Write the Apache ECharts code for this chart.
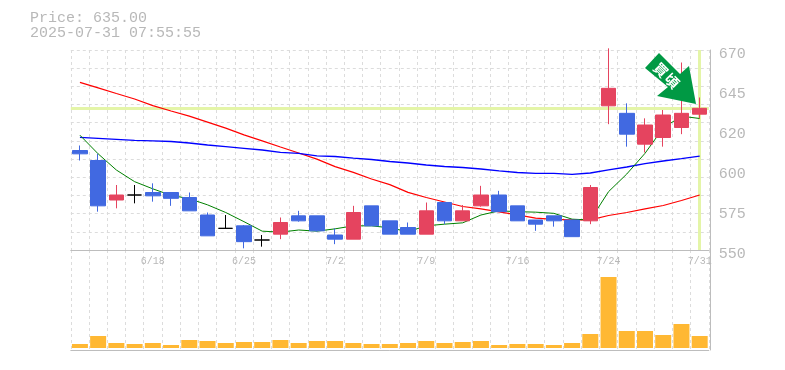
<!DOCTYPE html>
<html><head><meta charset="utf-8">
<style>html,body{margin:0;padding:0;background:#fff}#c{width:785px;height:370px}</style>
<script src="https://cdn.jsdelivr.net/npm/echarts@6/dist/echarts.min.js"></script>
</head><body><div id="c"></div>
<script>
const dates=['6/12','6/13','6/16','6/17','6/18','6/19','6/20','6/23','6/24','6/25','6/26','6/27','6/30','7/1','7/2','7/3','7/4','7/7','7/8','7/9','7/10','7/11','7/14','7/15','7/16','7/17','7/18','7/22','7/23','7/24','7/25','7/28','7/29','7/30','7/31'];
const opens=[609.7,603.7,580,583,584.5,584.5,581.5,571,563,564.5,556,559.5,570.5,570.5,559,556.5,576.5,567.5,563.5,559.5,578.5,567.5,576.5,583,576.5,568,570.5,568,567.5,636.5,632,613.5,617.5,623.5,631.5];
const closes=[607.7,576.5,583,583,582.5,581,573.5,558.5,563,555,556,566.5,567.5,561.5,556.5,572.5,564.5,559.5,559.5,573.5,567.5,573.5,583,573,567.5,565.5,567.5,558,587.5,647,619.5,625,631,632,635];
const lows=[603.7,573,575,578,579,576.5,573.5,558.5,563,551,552,556.5,567,561,553.5,556.5,564.5,559.5,559.5,559.5,565.5,567.5,576,573,567.5,561.5,564,558,565.5,625.5,612,608.5,612,619.5,629];
const highs=[612.7,607.7,589,589,590,584.5,584.5,572.5,571,565,559,569.5,573.5,570.5,563,576.5,576.5,567.5,566.5,578.5,578.5,577,588.5,585.5,576.5,568,570.5,568,589,671,638,629,634,662.5,641.5];
const maShort=[618.9,607.7,598,591,586.7,582.8,580.8,577.1,572.5,567,561.3,560.7,562,561.3,562.7,564.5,564.5,563.3,561,564.5,565.5,566.3,571,573.5,573,572.7,572,568.5,568,585,595.6,608,623.2,630.3,628.9];
const maMid=[650.6,647.3,643.9,640.6,636.6,633.4,630.3,626.7,623.1,619.1,615.5,611.8,608.2,604.5,600,596.6,592.6,589.2,584.6,581.5,578.8,576.1,574.7,572.9,571.1,569.1,568.4,568.1,568.1,570.7,572.5,574.7,576.7,579.7,583];
const maLong=[617.6,617,616.4,615.8,615.5,615.1,614.2,613,612,611,610,608.6,608,606.5,606.1,605.1,604.3,603.1,602.2,601,600.1,599.5,598.6,597.5,596.5,596,596,595.4,596.2,598.1,599.8,601.8,603.4,604.8,606.3];
const volumes=[4,12,5,4,5,3,8,7,5,6,6,8,5,7,7,5,4,4,5,7,5,6,7,3,4,4,3,5,14,71,17,17,13,24,12];
const priceTicks=[550,574,598,622,646,670];
const lastPrice=635, lastDate='7/31';
const titleText='Price: 635.00\n2025-07-31 07:55:55';
const stampText=['買','頃'];

const MONO='"Liberation Mono","DejaVu Sans Mono",monospace', GREY='#b8b8b8', AXIS='#bdbdbd', GRID='#dcdcdc';
const UP='#e5445f', DOWN='#4169e1';
const candles=dates.map((d,i)=>{
  const v=[opens[i],closes[i],lows[i],highs[i]];
  return opens[i]===closes[i]?{value:v,itemStyle:{color:'#000',color0:'#000',borderColor:'#000',borderColor0:'#000',borderColorDoji:'#000'}}:{value:v};
});
const dash={type:[3,3],color:GRID,width:1};
const chart=echarts.init(document.getElementById('c'),null,{renderer:'canvas'});
const line=(d,c,w)=>({type:'line',data:d,showSymbol:false,smooth:false,z:2,silent:true,lineStyle:{color:c,width:w}});
chart.setOption({
  animation:false,backgroundColor:'#fff',
  title:{text:titleText,left:30,top:11,padding:0,textStyle:{fontFamily:MONO,fontSize:15,lineHeight:15,fontWeight:'normal',color:GREY}},
  grid:[{left:70.8,width:638,top:50,height:200},{left:70.8,width:638,top:250,height:100}],
  xAxis:[
    {type:'category',gridIndex:0,data:dates,boundaryGap:true,axisLine:{show:true,onZero:false,lineStyle:{color:AXIS}},axisTick:{show:false},
     splitLine:{show:true,interval:0,lineStyle:dash},
     axisLabel:{show:true,interval:i=>(dates.length-1-i)%5===0,margin:6,fontFamily:MONO,fontSize:10,color:GREY}},
    {type:'category',gridIndex:1,data:dates,boundaryGap:true,axisLine:{show:true,onZero:false,lineStyle:{color:AXIS}},axisTick:{show:false},
     splitLine:{show:true,interval:0,lineStyle:dash},axisLabel:{show:false}}
  ],
  yAxis:[
    {type:'value',gridIndex:0,position:'right',offset:1,min:550,max:670,
     axisLine:{show:true,lineStyle:{color:AXIS}},axisTick:{show:false},splitLine:{show:false},
     axisLabel:{show:true,customValues:priceTicks,margin:9,verticalAlign:'top',lineHeight:8,fontFamily:MONO,fontSize:15,color:GREY,
       formatter:v=>String(Math.round(v/5)*5)}},
    {type:'value',gridIndex:0,min:0,max:11,interval:1,axisLine:{show:false},axisTick:{show:false},axisLabel:{show:false},
     splitLine:{show:true,lineStyle:dash}},
    {type:'value',gridIndex:1,position:'right',offset:1,min:-2,max:98,axisLine:{show:true,lineStyle:{color:AXIS}},axisTick:{show:false},axisLabel:{show:false},splitLine:{show:false}}
  ],
  series:[
    {type:'line',xAxisIndex:0,yAxisIndex:0,data:[],z:1,silent:true,
     markLine:{silent:true,z:1,symbol:'none',animation:false,label:{show:false},lineStyle:{color:'#e4f5a8',width:3,type:'solid'},
       data:[{yAxis:lastPrice},{xAxis:lastDate}]}},
    line(maMid,'#ff0000',1.2),line(maLong,'#0000ff',1.4),line(maShort,'#008000',1),
    {type:'candlestick',xAxisIndex:0,yAxisIndex:0,z:3,silent:true,barWidth:15,data:candles,clip:true,
     itemStyle:{color:UP,color0:DOWN,borderColor:UP,borderColor0:DOWN,borderWidth:1}},
    {type:'bar',xAxisIndex:1,yAxisIndex:2,barWidth:16,data:volumes,silent:true,itemStyle:{color:'#ffb833'}}
  ],
  graphic:[
    {type:'polygon',z:10,silent:true,shape:{points:[[659,53],[645,68],[668,87],[657,96],[696,104],[689,66],[680,74]]},style:{fill:'#009944'}},
    {type:'text',z:11,silent:true,x:661,y:70,rotation:-Math.PI/4,style:{text:stampText[0],fill:'#fff',fontFamily:'"Noto Sans CJK JP"',fontWeight:'bold',fontSize:14,align:'center',verticalAlign:'middle'}},
    {type:'text',z:11,silent:true,x:672,y:81,rotation:-Math.PI/4,style:{text:stampText[1],fill:'#fff',fontFamily:'"Noto Sans CJK JP"',fontWeight:'bold',fontSize:14,align:'center',verticalAlign:'middle'}}
  ]
});
</script></body></html>
